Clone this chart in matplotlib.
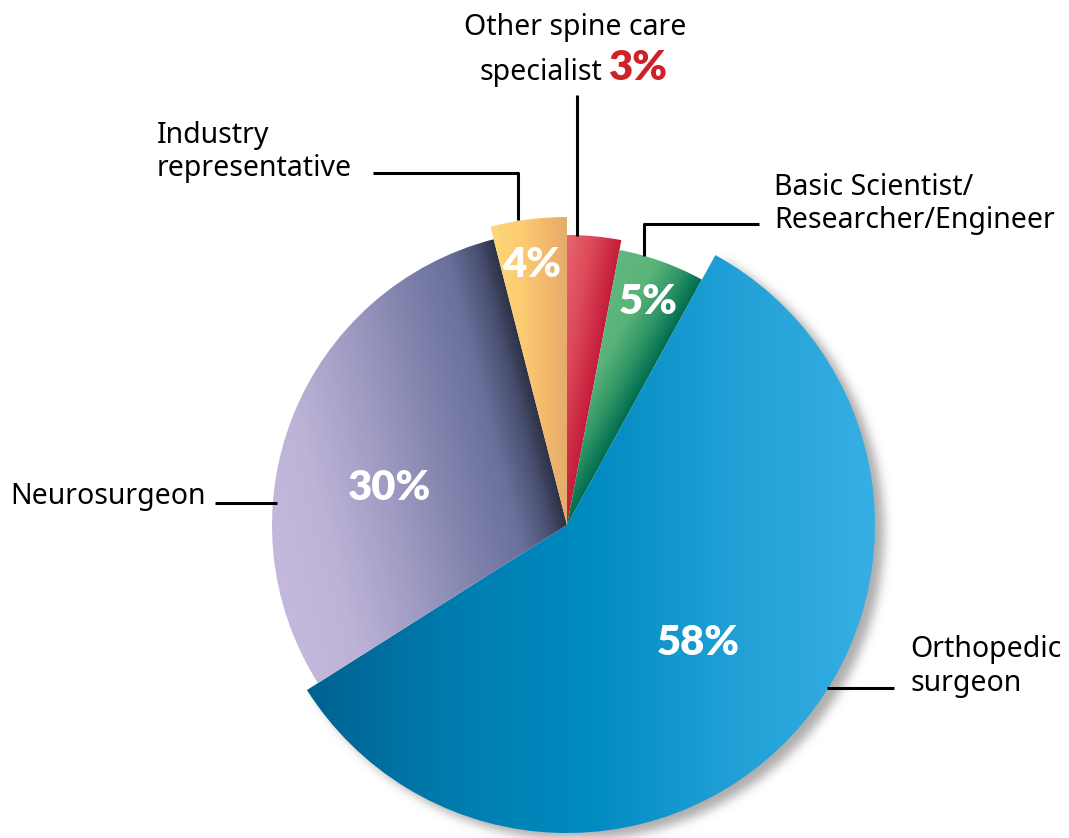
import numpy as np
import matplotlib
matplotlib.use("Agg")
import matplotlib.pyplot as plt
from matplotlib.patches import Wedge
from matplotlib.colors import to_rgb

# ---------------- data ----------------
categories = ["Other spine care specialist", "Basic Scientist/Researcher/Engineer",
              "Orthopedic surgeon", "Neurosurgeon", "Industry representative"]
values = [3, 5, 58, 30, 4]
pct_labels = ["3%", "5%", "58%", "30%", "4%"]

# ---------------- style ----------------
W, H = 1069, 838
cx, cy = 567, 525
radii = [290, 280, 308, 295, 308]
grads = [
    ('lin', [(0, '#ea6670'), (0.5, '#dc4858'), (1, '#c41c3a')]),
    ('lin', [(0, '#62b87e'), (0.45, '#5ab47a'), (0.75, '#2f9566'), (1, '#006d4f')]),
    ('x', [(0, '#00628f'), (0.3, '#007fb3'), (0.5, '#008bc0'), (0.75, '#21a0d6'), (1, '#36afe4')]),
    ('lin', [(0, '#c4b9dc'), (0.2, '#bdb3d7'), (0.45, '#9e9ac2'), (0.7, '#7a7ea8'),
             (0.83, '#6a719c'), (0.93, '#4c5273'), (1, '#2c3146')]),
    ('lin', [(0, '#fdd877'), (0.45, '#fbca70'), (0.75, '#f2b66b'), (1, '#e4ad6c')]),
]
FONT = 'Noto Sans'
BOLD_FONT = ['Lato', 'Open Sans', 'DejaVu Sans']

fig = plt.figure(figsize=(W / 100, H / 100), dpi=100)
ax = fig.add_axes([0, 0, 1, 1])
ax.axis('off')


def interp_colors(t, stops):
    pos = np.array([s[0] for s in stops])
    cols = np.array([to_rgb(s[1]) for s in stops])
    out = np.zeros(t.shape + (3,))
    for k in range(3):
        out[..., k] = np.interp(t, pos, cols[:, k])
    return out


def blur1d(arr, axis, kern, half):
    pad = [(0, 0), (0, 0)]
    pad[axis] = (half, half)
    p = np.pad(arr, pad)
    out = np.zeros_like(arr)
    n = arr.shape[axis]
    for j, w in enumerate(kern):
        sl = [slice(None), slice(None)]
        sl[axis] = slice(j, j + n)
        out += w * p[tuple(sl)]
    return out


# angles (data coords, y axis inverted -> increasing angle = clockwise on screen)
total = float(sum(values))
starts = []
a = -90.0
for v in values:
    starts.append((a, a + 360.0 * v / total))
    a += 360.0 * v / total

# ---------------- shadow under the large slice ----------------
yy, xx = np.mgrid[0:H, 0:W] + 0.5
t1, t2 = starts[2]
sx, sy = cx + 9, cy + 7
ang = np.degrees(np.arctan2(yy - sy, xx - sx))
rel = (ang - t1) % 360
mask = ((np.hypot(xx - sx, yy - sy) < radii[2]) & (rel <= (t2 - t1))).astype(float)
half = 15
k = np.arange(-half, half + 1)
kern = np.exp(-k ** 2 / (2 * 5.0 ** 2))
kern /= kern.sum()
blur = blur1d(blur1d(mask, 0, kern, half), 1, kern, half)
shadow = np.zeros((H, W, 4))
shadow[..., :3] = 0.45
shadow[..., 3] = blur * 0.58
ax.imshow(shadow, extent=(0, W, H, 0), origin='upper', zorder=1, interpolation='bilinear')

# ---------------- slices with gradients ----------------
for i, v in enumerate(values):
    r = radii[i]
    t1, t2 = starts[i]
    wedge = Wedge((cx, cy), r, t1, t2, facecolor='none', edgecolor='none', zorder=2)
    ax.add_patch(wedge)
    x0, x1 = cx - r - 2, cx + r + 2
    y0, y1 = cy - r - 2, cy + r + 2
    gy, gx = np.mgrid[y0:y1, x0:x1] + 0.5
    kind, stops = grads[i]
    if kind == 'lin':
        # distance from the closing edge of the slice
        th = np.radians(t2)
        d = np.abs((gx - cx) * np.sin(th) - (gy - cy) * np.cos(th))
        span = np.radians(t2 - t1)
        dmax = r * (np.sin(span) if span < np.pi / 2 else 1.0)
        t = np.clip(1 - d / dmax, 0, 1)
    else:
        t = np.clip((gx - 305) / (875 - 305), 0, 1)
    img = interp_colors(t, stops)
    im = ax.imshow(img, extent=(x0, x1, y1, y0), origin='upper', zorder=2,
                   interpolation='bilinear')
    im.set_clip_path(wedge)

# ---------------- percentage labels ----------------
pct_pos = {1: (648, 302), 2: (698, 643), 3: (390, 488), 4: (532, 265)}
for i, (px, py) in pct_pos.items():
    ax.text(px, py, pct_labels[i], color='white', fontsize=30, fontweight='heavy',
            family=BOLD_FONT, ha='center', va='center', zorder=5)

# ---------------- outside labels ----------------
lab_kw = dict(fontsize=20.5, family=FONT, color='black', va='baseline', zorder=5)
ax.text(575, 35, "Other spine care", ha='center', **lab_kw)
ax.text(602, 80, "specialist", ha='right', **lab_kw)
ax.text(609, 80, pct_labels[0], ha='left', fontsize=30, fontweight='heavy',
        family=BOLD_FONT, color='#d0202a', va='baseline', zorder=5)
ax.text(157, 143, "Industry", ha='left', **lab_kw)
ax.text(157, 176, "representative", ha='left', **lab_kw)
ax.text(774, 195, "Basic Scientist/", ha='left', **lab_kw)
ax.text(774, 228, "Researcher/Engineer", ha='left', **lab_kw)
ax.text(10, 504, "Neurosurgeon", ha='left', **lab_kw)
ax.text(910, 657, "Orthopedic", ha='left', **lab_kw)
ax.text(910, 691, "surgeon", ha='left', **lab_kw)

# ---------------- leader lines ----------------
lk = dict(color='black', lw=2.2, zorder=4, solid_capstyle='butt')
ax.plot([577, 577], [95, 236], **lk)
ax.plot([373, 518, 518], [173, 173, 220], **lk)
ax.plot([759, 644, 644], [224, 224, 256], **lk)
ax.plot([215, 277], [503, 503], **lk)
ax.plot([827, 894], [688, 688], **lk)

ax.set_xlim(0, W)
ax.set_ylim(H, 0)
ax.set_aspect('auto')
fig.savefig('out.png', dpi=100, facecolor='white')
